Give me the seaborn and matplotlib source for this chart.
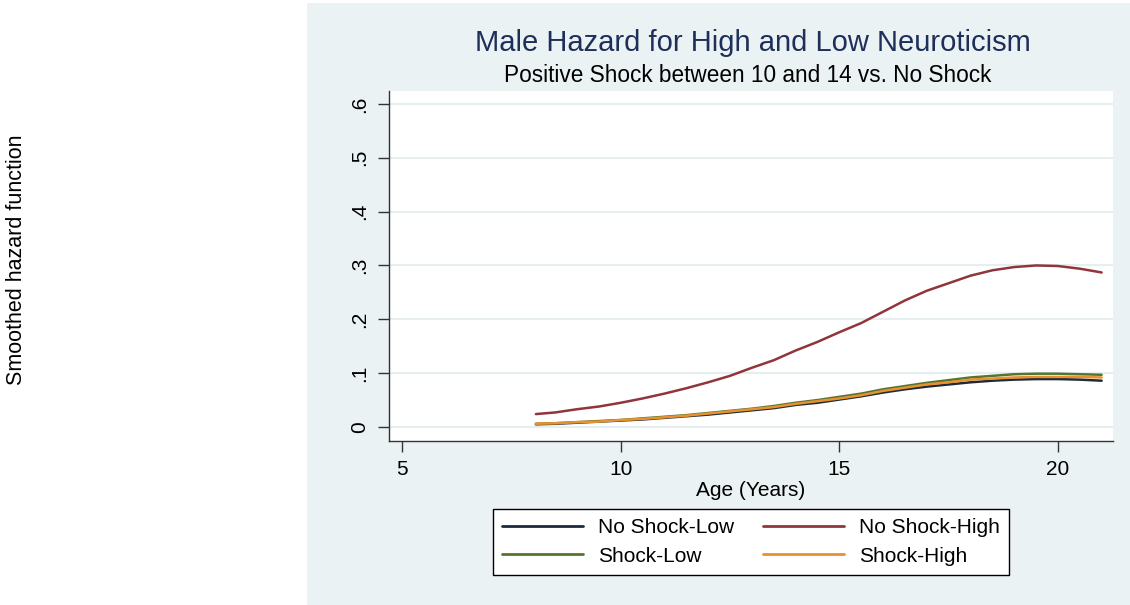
import pandas as pd
import matplotlib.pyplot as plt
from matplotlib.patches import Rectangle
import seaborn as sns

# Datos
edad = [8.06, 8.5, 9, 9.5, 10, 10.5, 11, 11.5, 12, 12.5, 13, 13.5, 14, 14.5,
        15, 15.5, 16, 16.5, 17, 17.5, 18, 18.5, 19, 19.5, 20, 20.5, 21]

no_shock_low = [0.005, 0.006, 0.008, 0.010, 0.012, 0.014, 0.017, 0.020, 0.023, 0.027,
                0.031, 0.035, 0.041, 0.045, 0.051, 0.057, 0.064, 0.070, 0.075, 0.079,
                0.083, 0.086, 0.088, 0.089, 0.089, 0.088, 0.086]
no_shock_high = [0.024, 0.027, 0.033, 0.038, 0.045, 0.053, 0.062, 0.072, 0.083, 0.095,
                 0.110, 0.124, 0.142, 0.158, 0.176, 0.193, 0.214, 0.235, 0.253, 0.267,
                 0.281, 0.291, 0.297, 0.300, 0.299, 0.294, 0.287]
shock_low = [0.006, 0.007, 0.009, 0.011, 0.013, 0.016, 0.019, 0.022, 0.026, 0.030,
             0.034, 0.039, 0.045, 0.050, 0.056, 0.062, 0.070, 0.076, 0.082, 0.087,
             0.092, 0.095, 0.098, 0.099, 0.099, 0.098, 0.097]
shock_high = [0.006, 0.007, 0.009, 0.010, 0.013, 0.015, 0.018, 0.021, 0.025, 0.029,
              0.033, 0.037, 0.043, 0.048, 0.053, 0.059, 0.067, 0.073, 0.079, 0.083,
              0.088, 0.090, 0.092, 0.093, 0.093, 0.093, 0.092]

series = ['No Shock-Low', 'No Shock-High', 'Shock-Low', 'Shock-High']
colores = ['#1c2b3c', '#90353b', '#55752f', '#e8912d']

df = pd.concat([
    pd.DataFrame({'edad': edad, 'hazard': vals, 'grupo': nom})
    for nom, vals in zip(series, [no_shock_low, no_shock_high, shock_low, shock_high])
])

sns.set_theme(style='white')
plt.rcParams['font.family'] = ['Liberation Sans', 'DejaVu Sans']
plt.rcParams['text.color'] = 'black'
plt.rcParams['axes.labelcolor'] = 'black'

fig = plt.figure(figsize=(11.3, 6.05), dpi=100)
fig.patch.set_facecolor('white')
# panel de fondo estilo Stata
fig.patches.append(Rectangle((307 / 1130, 0), 1 - 307 / 1130, 1 - 3 / 605,
                             transform=fig.transFigure, facecolor='#eaf2f3',
                             edgecolor='none', zorder=-5))

ax = fig.add_axes([389 / 1130, 1 - 441 / 605, (1113 - 389) / 1130, (441 - 91) / 605])
ax.set_facecolor('white')

# orden de dibujo: rojo, negro, verde, naranja arriba
orden = ['No Shock-High', 'No Shock-Low', 'Shock-Low', 'Shock-High']
pal = dict(zip(series, colores))
for g in orden:
    sns.lineplot(data=df[df['grupo'] == g], x='edad', y='hazard', color=pal[g],
                 linewidth=1.8, ax=ax, label=g)

ax.set_xlim(4.70, 21.26)
ax.set_ylim(-0.026, 0.624)
ax.set_xticks([5, 10, 15, 20])
ax.set_yticks([0, 0.1, 0.2, 0.3, 0.4, 0.5, 0.6])
ax.set_yticklabels(['0', '.1', '.2', '.3', '.4', '.5', '.6'], rotation=90, va='center')
ax.yaxis.grid(True, color='#e6eef1', linewidth=1.5)
ax.set_axisbelow(True)
for s in ['top', 'right']:
    ax.spines[s].set_visible(False)
for s in ['left', 'bottom']:
    ax.spines[s].set_color('#333333')
    ax.spines[s].set_linewidth(1)
ax.tick_params(axis='both', direction='out', length=8, width=1, color='#333333',
               labelsize=15, labelcolor='black', pad=6, left=True, bottom=True)
ax.set_xlabel('Age (Years)', fontsize=15, labelpad=1)
ax.set_ylabel('')

fig.text(17 / 1130, 1 - 260 / 605, 'Smoothed hazard function', rotation=90,
         ha='center', va='center', fontsize=15.5)
fig.text(753 / 1130, 1 - 43 / 605, 'Male Hazard for High and Low Neuroticism',
         ha='center', va='center', fontsize=21, color='#1e2f5a')
fig.text(748 / 1130, 1 - 76 / 605, 'Positive Shock between 10 and 14 vs. No Shock',
         ha='center', va='center', fontsize=16.3)

ax.get_legend().remove()
# matplotlib llena por columnas: reordenar para filas como el original
orden_leg = [0, 2, 1, 3]
handles = [plt.Line2D([], [], color=colores[i], linewidth=2) for i in orden_leg]
etiquetas = [series[i] for i in orden_leg]
leg = fig.legend(handles, etiquetas, ncol=2, loc='center',
                 bbox_to_anchor=(751 / 1130, 1 - 542 / 605), bbox_transform=fig.transFigure,
                 fontsize=15, frameon=True, fancybox=False, edgecolor='black',
                 framealpha=1, handlelength=3.9, handletextpad=0.7, columnspacing=1.4,
                 borderpad=0.45, labelspacing=0.45)
leg.get_frame().set_linewidth(1)
leg.get_frame().set_facecolor('white')

fig.savefig('out.png', dpi=100)
